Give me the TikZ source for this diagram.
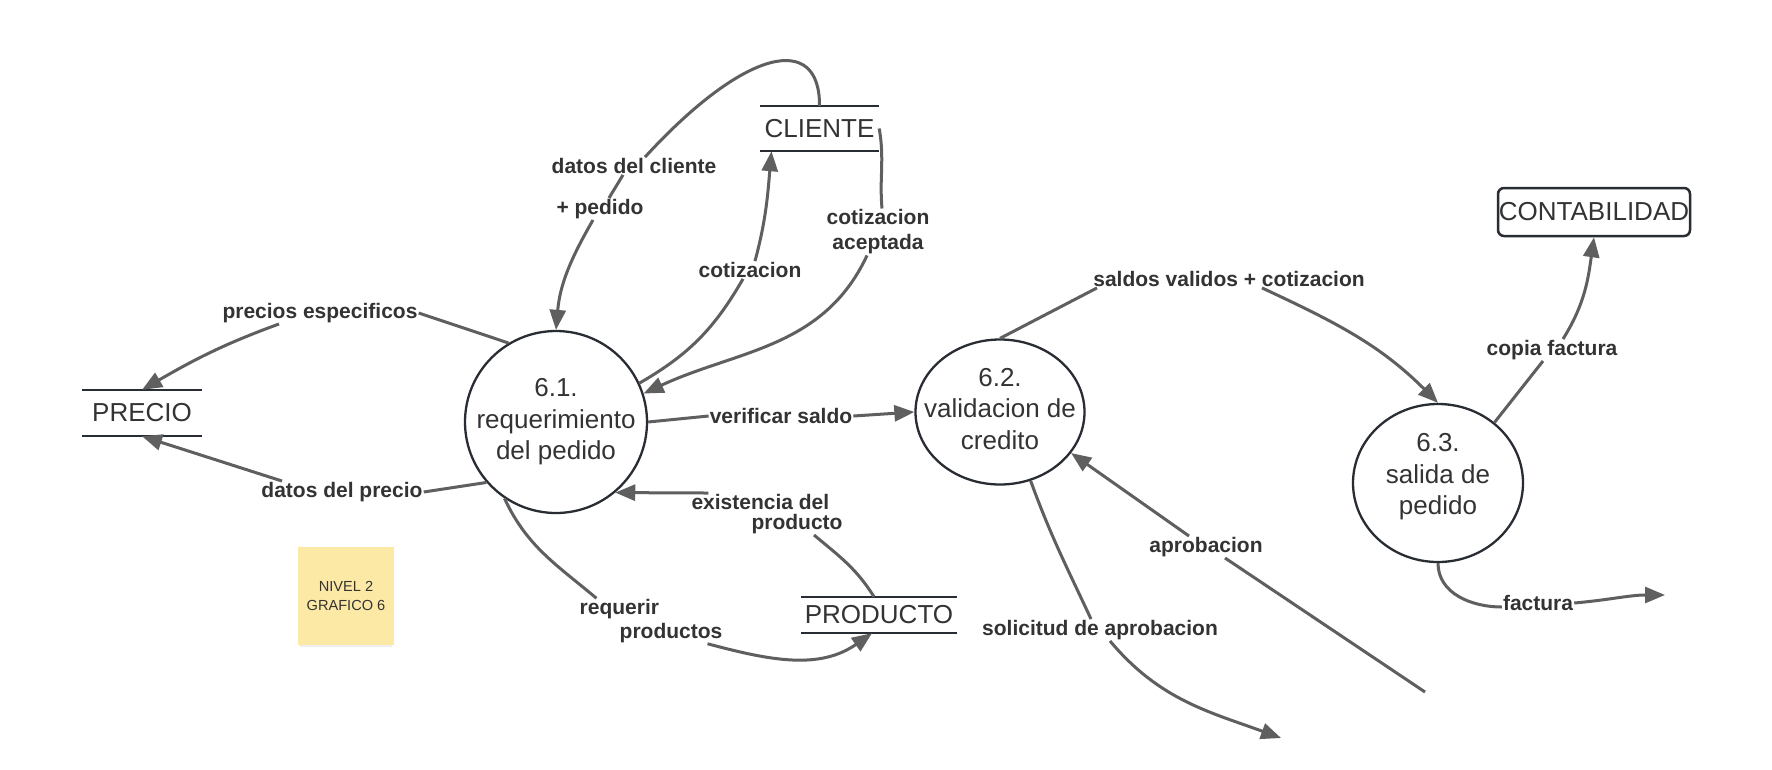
\documentclass[tikz,border=0pt]{standalone}
\usepackage{fontspec}
\setmainfont{Liberation Sans}
\usetikzlibrary{arrows.meta, positioning, shapes.geometric, shadows}

\definecolor{flow}{HTML}{5F5F5F}
\definecolor{outl}{HTML}{282C33}
\definecolor{ink}{HTML}{333333}
\definecolor{note}{HTML}{FDE9A6}

\begin{document}
\begin{tikzpicture}[x=1pt, y=-1pt,
  proc/.style={draw=outl, line width=2.3pt, ellipse, inner sep=0pt},
  proctext/.style={font=\fontsize{26}{31.5}\selectfont, text=ink, align=center},
  store/.style={font=\fontsize{26}{31}\selectfont, text=ink, inner sep=0pt},
  storeline/.style={draw=outl, line width=2.5pt},
  lbl/.style={font=\fontsize{21}{25}\selectfont\bfseries, text=ink, inner sep=1pt},
  flw/.style={draw=flow, line width=3pt},
  arr/.style={flw, -{Triangle[length=20pt, width=16pt]}}]

\fill[white] (0,0) rectangle (1772,769);
\useasboundingbox (0,0) rectangle (1772,769);

\node[proc, minimum width=182pt, minimum height=182pt,
  label={[proctext]center:6.1.\\requerimiento\\del pedido}] (req) at (556,422) {};
\node[proc, minimum width=169pt, minimum height=145pt,
  label={[proctext, yshift=3pt]center:6.2.\\validacion de\\credito}] (valid) at (1000,412) {};
\node[proc, minimum width=170pt, minimum height=158pt,
  label={[proctext, yshift=6pt]center:6.3.\\salida de\\pedido}] (sal) at (1438,483) {};

\node[store, minimum width=120pt, minimum height=46pt] (precio) at (142,413) {PRECIO};
\node[store, minimum width=119pt, minimum height=45pt] (cliente) at (819.5,128.5) {CLIENTE};
\node[store, minimum width=156pt, minimum height=36pt] (producto) at (879,615) {PRODUCTO};
\node[store, draw=outl, line width=2.5pt, rounded corners=6pt,
  minimum width=192pt, minimum height=48pt] (contab) at (1594,212) {CONTABILIDAD};

\draw[storeline] (precio.north west) -- (precio.north east) (precio.south west) -- (precio.south east);
\draw[storeline] (cliente.north west) -- (cliente.north east) (cliente.south west) -- (cliente.south east);
\draw[storeline] (producto.north west) -- (producto.north east) (producto.south west) -- (producto.south east);

\node[fill=note, drop shadow={shadow xshift=0pt, shadow yshift=-4pt, shadow scale=0.96, opacity=0.12},
  minimum width=96pt, minimum height=98pt, font=\fontsize{14.6}{19}\selectfont,
  text=ink, align=center] (nota) at (346,596) {NIVEL 2\\GRAFICO 6};

\node[lbl] (lPrecios) at (320,313) {precios especificos};
\node[lbl] (lDatosPrecio) at (342,492) {datos del precio};
\node[lbl] (lDatosCli) at (634,166) {datos del cliente};
\node[lbl] (lPedido) at (600,209) {+ pedido};
\node[lbl] (lCotiz) at (750,270) {cotizacion};
\node[lbl, align=center] (lAcept) at (878,232) {cotizacion\\aceptada};
\node[lbl] (lVerif) at (781,416) {verificar saldo};
\node[lbl, align=left, font=\fontsize{21}{20}\selectfont\bfseries] (lExist) at (767,514) {existencia del\\\hspace*{60pt}producto};
\node[lbl, align=left, font=\fontsize{21}{23.5}\selectfont\bfseries] (lReq) at (651,621) {requerir\\\hspace*{40pt}productos};
\node[lbl] (lSaldos) at (1229,279) {saldos validos + cotizacion};
\node[lbl] (lAprob) at (1206,547) {aprobacion};
\node[lbl] (lSolic) at (1100,630) {solicitud de aprobacion};
\node[lbl] (lCopia) at (1552,350) {copia factura};
\node[lbl] (lFactura) at (1538,603) {factura};

\coordinate (aprobEnd) at (1425,692);
\coordinate (solicEnd) at (1281,738);
\coordinate (factEnd) at (1665,595);

\draw[flw] (req.121) -- (lPrecios.east);
\draw[arr] ([xshift=-41pt]lPrecios.south) to[out=200, in=30] (precio.north);

\draw[flw] (req.221) -- (lDatosPrecio.east);
\draw[arr] ([xshift=-60pt]lDatosPrecio.north) -- (precio.south);

\draw[flw] (cliente.north) .. controls (820,32) and (745,48) .. ([xshift=11pt]lDatosCli.north);
\draw[flw] ([xshift=-11pt]lDatosCli.south) -- ([xshift=9pt]lPedido.north);
\draw[arr] ([xshift=-7pt]lPedido.south) to[out=240, in=85] (req.north);

\draw[flw] (req.25) to[out=30, in=240] ([xshift=-7pt]lCotiz.south);
\draw[arr] ([xshift=5pt]lCotiz.north) to[out=75, in=265] ([xshift=-48pt]cliente.south);

\draw[flw] (cliente.east) to[out=-80, in=95] ([xshift=4pt]lAcept.north);
\draw[arr] ([xshift=-11pt]lAcept.south) to[out=245, in=25] (req.18);

\draw[flw] (req.east) -- (lVerif.west);
\draw[arr] (lVerif.east) -- (valid.west);

\draw[flw] (valid.north) -- ([xshift=-132pt]lSaldos.south);
\draw[arr] ([xshift=33pt]lSaldos.south) to[out=-25, in=135] (sal.north);

\draw[flw] (aprobEnd) -- ([xshift=19pt]lAprob.south);
\draw[arr] ([xshift=-17pt]lAprob.north) -- (valid.-30);

\draw[flw] (valid.-66) to[out=-70, in=115] ([xshift=-9pt]lSolic.north);
\draw[arr] ([xshift=10pt]lSolic.south) to[out=-50, in=160] (solicEnd);

\draw[flw] (sal.47) -- ([xshift=-9pt]lCopia.south);
\draw[arr] ([xshift=11pt]lCopia.north) to[out=58, in=-98] (contab.south);

\draw[flw] (sal.south) to[out=-90, in=180] ([yshift=-4pt]lFactura.west);
\draw[arr] (lFactura.east) to[out=5, in=180] (factEnd);

\draw[flw] ([xshift=-5pt]producto.north) to[out=122, in=-40] ([xshift=47pt]lExist.south);
\draw[arr] ([xshift=18pt]lExist.north west) -- (req.-50);

\draw[flw] (req.236) to[out=-65, in=140] ([xshift=18pt]lReq.north west);
\draw[arr] ([xshift=-16pt]lReq.south east) to[out=-15, in=215] ([xshift=-7pt]producto.south);
\end{tikzpicture}
\end{document}
